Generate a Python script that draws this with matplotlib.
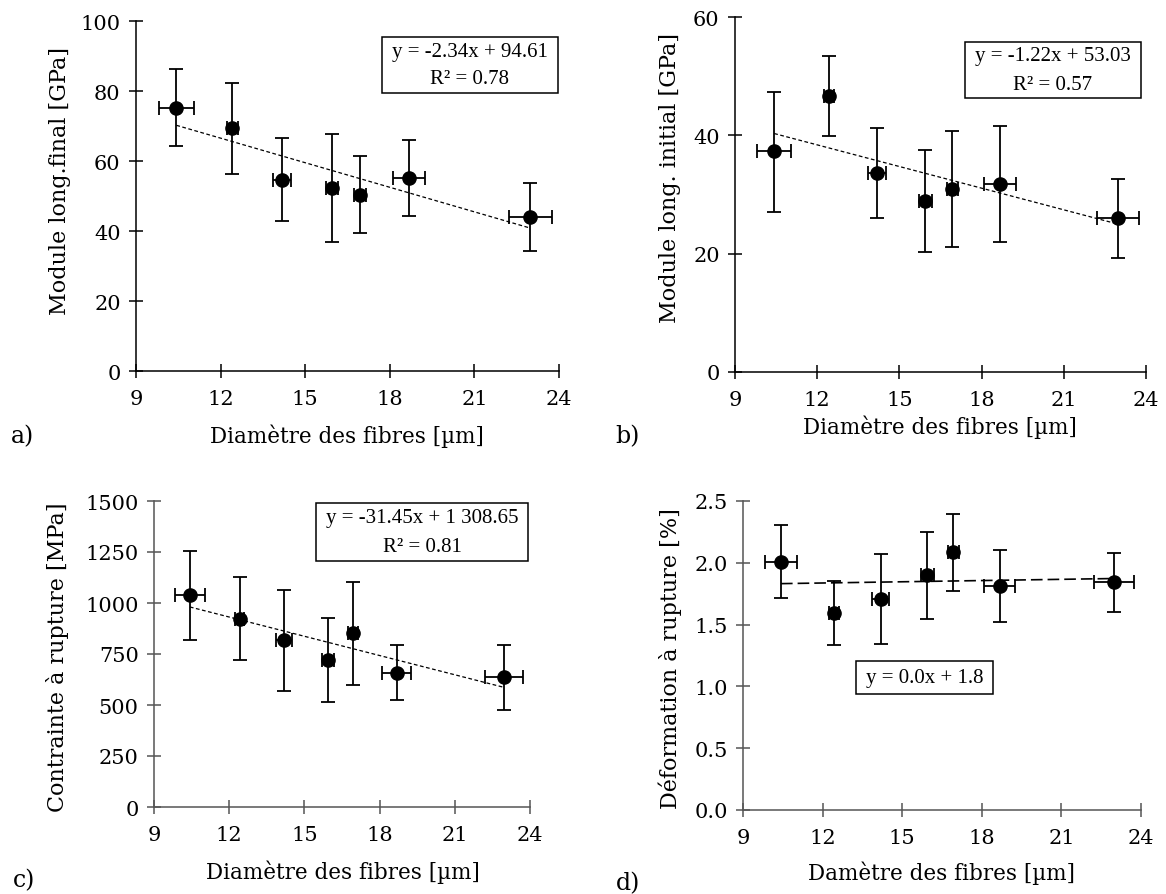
import matplotlib.pyplot as plt
from matplotlib.patches import Rectangle
import numpy as np

# fibre diameters [um] and their spread (same for all four panels)
diam = [10.43, 12.42, 14.19, 15.95, 16.93, 18.68, 22.98]
diam_err = [0.61, 0.19, 0.32, 0.23, 0.21, 0.58, 0.76]

# a) final longitudinal modulus [GPa]
mod_final = [75.2, 69.3, 54.7, 52.4, 50.4, 55.2, 43.9]
mod_final_lo = [64.2, 56.3, 42.9, 37.0, 39.3, 44.4, 34.3]
mod_final_hi = [86.2, 82.3, 66.6, 67.8, 61.5, 65.9, 53.6]

# b) initial longitudinal modulus [GPa]
mod_init = [37.3, 46.6, 33.7, 28.9, 31.0, 31.8, 26.0]
mod_init_lo = [27.0, 39.9, 26.1, 20.2, 21.1, 21.9, 19.3]
mod_init_hi = [47.4, 53.4, 41.3, 37.6, 40.8, 41.5, 32.7]

# c) tensile strength [MPa]
stress = [1037, 923, 817, 723, 851, 659, 636]
stress_lo = [819, 721, 568, 517, 598, 525, 476]
stress_hi = [1255, 1128, 1066, 925, 1104, 796, 796]

# d) strain at break [%]
strain = [2.009, 1.597, 1.705, 1.899, 2.087, 1.812, 1.842]
strain_lo = [1.715, 1.332, 1.343, 1.543, 1.772, 1.524, 1.602]
strain_hi = [2.305, 1.855, 2.069, 2.249, 2.395, 2.104, 2.077]

# linear trend coefficients (slope, intercept)
fit_a = (-2.34, 94.61)
fit_b = (-1.22, 53.03)
fit_c = (-31.45, 1308.65)
fit_d = (0.0033, 1.797)

xticks = [9, 12, 15, 18, 21, 24]

W, H = 1166, 895
fig = plt.figure(figsize=(W / 100, H / 100), dpi=100)

LAB = 'DejaVu Serif'
EQ = 'Liberation Serif'


def px(x0, y0, x1, y1):
    # pixel box (left, top, right, bottom) -> figure fraction rect
    return [x0 / W, 1 - y1 / H, (x1 - x0) / W, (y1 - y0) / H]


def panel(rect, y, lo, hi, fit, ylim, yticks, ytl, spine_col, dash):
    ax = fig.add_axes(rect)
    y = np.array(y)
    yerr = [y - np.array(lo), np.array(hi) - y]
    ax.errorbar(diam, y, yerr=yerr, xerr=diam_err, fmt='o', color='black',
                ms=9.5, elinewidth=1.3, capsize=5, capthick=1.3, zorder=3)
    xs = np.array([diam[0], diam[-1]])
    ax.plot(xs, fit[0] * xs + fit[1], color='black', lw=dash[0],
            dashes=dash[1], zorder=2)
    ax.set_xlim(9, 24)
    ax.set_ylim(*ylim)
    ax.set_xticks(xticks)
    ax.set_yticks(yticks)
    ax.set_yticklabels(ytl)
    for s in ['top', 'right']:
        ax.spines[s].set_visible(False)
    for s in ['left', 'bottom']:
        ax.spines[s].set_color(spine_col)
        ax.spines[s].set_linewidth(1.1)
    ax.tick_params(direction='inout', length=10, width=1.1, color=spine_col,
                   labelsize=15, pad=6)
    ax.tick_params(axis='x', pad=8)
    for t in ax.get_xticklabels() + ax.get_yticklabels():
        t.set_family(LAB)
    ax.patch.set_alpha(0)
    return ax


panel(px(136, 22, 559, 372), mod_final, mod_final_lo, mod_final_hi, fit_a,
      (0, 100), [0, 20, 40, 60, 80, 100], ['0', '20', '40', '60', '80', '100'],
      'black', (0.9, (3, 2)))
panel(px(735, 18, 1146, 373), mod_init, mod_init_lo, mod_init_hi, fit_b,
      (0, 60), [0, 20, 40, 60], ['0', '20', '40', '60'],
      'black', (0.9, (3, 2)))
panel(px(154, 502, 530, 808), stress, stress_lo, stress_hi, fit_c,
      (0, 1500), [0, 250, 500, 750, 1000, 1250, 1500],
      ['0', '250', '500', '750', '1000', '1250', '1500'],
      '#555555', (0.9, (3, 2)))
panel(px(743, 502, 1141, 811), strain, strain_lo, strain_hi, fit_d,
      (0, 2.5), [0, 0.5, 1.0, 1.5, 2.0, 2.5],
      ['0.0', '0.5', '1.0', '1.5', '2.0', '2.5'],
      '#555555', (1.2, (7, 3)))

# axis titles
def ftext(x, y, s, rot=0, size=15.5):
    fig.text(x / W, 1 - y / H, s, ha='center', va='center', rotation=rot,
             family=LAB, fontsize=size)


ftext(347, 436, 'Diamètre des fibres [µm]')
ftext(940, 427, 'Diamètre des fibres [µm]')
ftext(343, 872, 'Diamètre des fibres [µm]')
ftext(942, 873, 'Damètre des fibres [µm]')
ftext(60, 181, 'Module long.final [GPa]', rot=90, size=16)
ftext(670, 178, 'Module long. initial [GPa]', rot=90, size=16)
ftext(58, 657, 'Contrainte à rupture [MPa]', rot=90, size=16)
ftext(670, 659, 'Déformation à rupture [%]', rot=90, size=16)

# panel letters
ftext(22, 437, 'a)', size=17)
ftext(627, 437, 'b)', size=17)
ftext(24, 881, 'c)', size=17)
ftext(628, 884, 'd)', size=17)

# equation boxes
def eqbox(x0, y0, x1, y1, lines):
    fig.add_artist(Rectangle((x0 / W, 1 - y1 / H), (x1 - x0) / W, (y1 - y0) / H,
                             transform=fig.transFigure, fill=False,
                             edgecolor='black', lw=1.1))
    n = len(lines)
    h = (y1 - y0) / n
    for i, s in enumerate(lines):
        fig.text((x0 + x1) / 2 / W, 1 - (y0 + h * (i + 0.5)) / H, s,
                 ha='center', va='center', family=EQ, fontsize=15)


eqbox(382, 38, 558, 94, ['y = -2.34x + 94.61', 'R² = 0.78'])
eqbox(965, 43, 1141, 99, ['y = -1.22x + 53.03', 'R² = 0.57'])
eqbox(316, 504, 528, 562, ['y = -31.45x + 1 308.65', 'R² = 0.81'])
eqbox(856, 662, 993, 695, ['y = 0.0x + 1.8'])

fig.savefig('out.png', dpi=100, facecolor='white')
